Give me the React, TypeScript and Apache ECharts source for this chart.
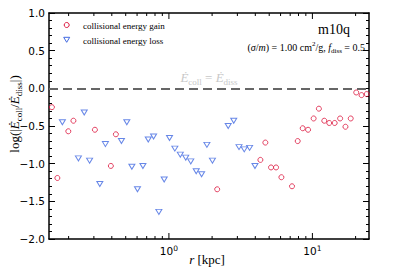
import React, { useEffect, useRef } from 'react';
import * as echarts from 'echarts';

// radius bins [kpc] and log(|Ecoll/Ediss|) values
const gainR = [0.153, 0.167, 0.199, 0.216, 0.305, 0.394, 0.427, 2.17, 4.34, 4.70, 5.15, 5.58, 6.08, 7.21, 7.90, 8.56, 9.33, 10.2, 11.1, 12.1, 13.1, 14.3, 15.6, 17.0, 18.5, 20.2, 22.0, 23.9];
const gainY = [-0.25, -1.19, -0.57, -0.43, -0.55, -1.03, -0.61, -1.34, -0.95, -0.72, -1.05, -1.05, -1.18, -1.30, -0.70, -0.53, -0.55, -0.40, -0.27, -0.43, -0.46, -0.46, -0.40, -0.51, -0.40, -0.055, -0.09, -0.076];
const lossR = [0.181, 0.234, 0.257, 0.280, 0.330, 0.361, 0.467, 0.509, 0.552, 0.604, 0.659, 0.718, 0.782, 0.851, 0.927, 1.01, 1.10, 1.20, 1.31, 1.42, 1.55, 1.69, 1.84, 2.01, 2.59, 2.83, 3.08, 3.35, 3.65, 3.98];
const lossY = [-0.45, -0.93, -0.32, -0.96, -1.27, -0.74, -0.70, -0.45, -1.04, -1.34, -1.03, -0.68, -0.64, -1.64, -1.21, -0.66, -0.80, -0.88, -0.92, -0.97, -1.10, -1.14, -0.75, -0.96, -0.50, -0.43, -0.78, -0.81, -0.79, -1.03];

const seriesNames = ['collisional energy gain', 'collisional energy loss'];
const xMajorTicks = [1, 10];
const xMajorExp = ['0', '1'];
const xMinorTicks = [0.2, 0.3, 0.4, 0.5, 0.6, 0.7, 0.8, 0.9, 2, 3, 4, 5, 6, 7, 8, 9, 20];
const xMin = 0.146;
const xMax = 24.8;
const yMin = -2;
const yMax = 1;
const yInterval = 0.5;
const refLineY = 0;

const RED = '#dc143c';
const BLUE = '#4169e1';
const SERIF = '"Liberation Serif", "DejaVu Serif", serif';
const SANS = '"DejaVu Sans", sans-serif';
const MAJOR_LEN = 6;
const MINOR_LEN = 3;

function mathRich(size: number, color = '#000') {
  const lh = Math.round(size * 1.35);
  const sl = Math.round(size * 0.75);
  const ss = Math.round(size * 0.7);
  return {
    n: { fontFamily: SERIF, fontSize: size, color, fill: color, lineHeight: lh },
    i: { fontFamily: SERIF, fontSize: size, color, fill: color, fontStyle: 'italic', lineHeight: lh },
    sub: { fontFamily: SERIF, fontSize: ss, color, fill: color, lineHeight: sl, verticalAlign: 'bottom' },
    sup: { fontFamily: SERIF, fontSize: ss, color, fill: color, lineHeight: sl, verticalAlign: 'top' },
  };
}

export default function App() {
  const ref = useRef<HTMLDivElement>(null);
  useEffect(() => {
    if (!ref.current) return;
    const chart = echarts.init(ref.current, null, { renderer: 'svg' });
    const spine = { show: true, onZero: false, lineStyle: { color: '#000', width: 1.5 } };
    const tickStyle = { color: '#000', width: 1 };
    const yAx = (position: string, labels: boolean) => ({
      type: 'value',
      position,
      min: yMin,
      max: yMax,
      interval: yInterval,
      axisLine: spine,
      axisTick: { show: true, inside: true, length: MAJOR_LEN, lineStyle: tickStyle },
      minorTick: { show: true, splitNumber: 5, length: MINOR_LEN, lineStyle: tickStyle },
      splitLine: { show: false },
      axisLabel: labels
        ? {
            margin: 4,
            fontFamily: SANS,
            fontSize: 10.5,
            color: '#000',
            formatter: (v: number) => (v < 0 ? '\u2212' : '') + Math.abs(v).toFixed(1),
          }
        : { show: false },
    });
    const xAx = (position: string, labels: boolean) => ({
      type: 'log',
      logBase: 10,
      position,
      min: xMin,
      max: xMax,
      axisLine: spine,
      axisTick: { show: false },
      splitLine: { show: false },
      axisLabel: labels
        ? {
            show: true,
            margin: 5,
            showMinLabel: false,
            showMaxLabel: false,
            formatter: (v: number) => {
              const k = xMajorTicks.findIndex((t) => Math.abs(t - v) < 1e-6 * t);
              return k >= 0 ? `{b|10}{e|${xMajorExp[k]}}` : '';
            },
            rich: {
              b: { fontFamily: SANS, fontSize: 10.5, color: '#000', lineHeight: 14 },
              e: { fontFamily: SANS, fontSize: 7.5, color: '#000', lineHeight: 8, verticalAlign: 'top' },
            },
          }
        : { show: false },
    });
    const option: any = {
      animation: false,
      backgroundColor: '#fff',
      grid: { left: 49, right: 38, top: 13, bottom: 32, containLabel: false, outerBoundsMode: 'none' },
      xAxis: [xAx('bottom', true), xAx('top', false)],
      yAxis: [yAx('left', true), yAx('right', false)],
      series: [
        {
          name: seriesNames[0],
          type: 'scatter',
          xAxisIndex: 0,
          yAxisIndex: 0,
          symbol: 'circle',
          symbolSize: 5,
          itemStyle: { color: 'rgba(255,255,255,0)', borderColor: RED, borderWidth: 1 },
          data: gainR.map((r, i) => [r, gainY[i]]),
          z: 3,
          markLine: {
            silent: true,
            symbol: 'none',
            label: { show: false },
            lineStyle: { type: [9, 5], color: '#666', width: 1.8 },
            data: [{ yAxis: refLineY }],
            z: 1,
          },
        },
        {
          name: seriesNames[1],
          type: 'scatter',
          xAxisIndex: 0,
          yAxisIndex: 0,
          symbol: 'triangle',
          symbolRotate: 180,
          symbolSize: [6, 5],
          itemStyle: { color: 'rgba(255,255,255,0)', borderColor: BLUE, borderWidth: 1 },
          data: lossR.map((r, i) => [r, lossY[i]]),
          z: 3,
        },
      ],
      graphic: [
        {
          type: 'circle',
          shape: { cx: 66.7, cy: 25, r: 2.5 },
          style: { fill: 'none', stroke: RED, lineWidth: 1 },
        },
        {
          type: 'polygon',
          shape: { points: [[63.7, 37.3], [69.7, 37.3], [66.7, 42.3]] },
          style: { fill: 'none', stroke: BLUE, lineWidth: 1 },
        },
        {
          type: 'text',
          x: 83,
          y: 25.5,
          style: { text: seriesNames[0], fontFamily: SERIF, fontSize: 9, fill: '#000', verticalAlign: 'middle' },
        },
        {
          type: 'text',
          x: 83,
          y: 40.5,
          style: { text: seriesNames[1], fontFamily: SERIF, fontSize: 9, fill: '#000', verticalAlign: 'middle' },
        },
        // axis titles
        {
          type: 'text',
          x: 14,
          y: 114,
          rotation: Math.PI / 2,
          style: {
            text: '{n|log(|}{i|\u0116}{sub|coll}{n|/}{i|\u0116}{sub|diss}{n||)}',
            rich: mathRich(13),
            align: 'center',
            verticalAlign: 'middle',
          },
        },
        {
          type: 'text',
          x: 207,
          y: 259,
          style: {
            text: '{i|r}{n| [kpc]}',
            rich: mathRich(13),
            align: 'center',
            verticalAlign: 'middle',
          },
        },
        {
          type: 'text',
          x: 350,
          y: 29,
          style: { text: 'm10q', fontFamily: SERIF, fontSize: 14, fill: '#000', align: 'right', verticalAlign: 'middle' },
        },
        {
          type: 'text',
          x: 365,
          y: 47,
          style: {
            text: '{n|(}{i|\u03c3}{n|/}{i|m}{n|) = 1.00 cm}{sup|2}{n|/g, }{i|f}{sub|diss}{n| = 0.5}',
            rich: mathRich(10),
            align: 'right',
            verticalAlign: 'middle',
          },
        },
        {
          type: 'text',
          x: 209,
          y: 77,
          style: {
            text: '{i|\u0116}{sub|coll}{n| = }{i|\u0116}{sub|diss}',
            rich: mathRich(13, '#c8c8c8'),
            align: 'center',
            verticalAlign: 'middle',
          },
        },
      ],
    };
    chart.setOption(option);

    // x-axis major/minor ticks (inside, top and bottom), placed through the log axis scale
    const yBottom = chart.convertToPixel({ yAxisIndex: 0 }, yMin) as number;
    const yTop = chart.convertToPixel({ yAxisIndex: 0 }, yMax) as number;
    const tickLines: any[] = [];
    const addTicks = (vals: number[], len: number) => {
      vals.forEach((v) => {
        const px = chart.convertToPixel({ xAxisIndex: 0 }, v) as number;
        tickLines.push({
          type: 'line',
          silent: true,
          shape: { x1: px, y1: yBottom, x2: px, y2: yBottom - len },
          style: { stroke: '#000', lineWidth: 1 },
        });
        tickLines.push({
          type: 'line',
          silent: true,
          shape: { x1: px, y1: yTop, x2: px, y2: yTop + len },
          style: { stroke: '#000', lineWidth: 1 },
        });
      });
    };
    addTicks(xMajorTicks, MAJOR_LEN);
    addTicks(xMinorTicks, MINOR_LEN);
    chart.setOption({ graphic: [...option.graphic, ...tickLines] }, { replaceMerge: ['graphic'] });

    return () => chart.dispose();
  }, []);
  return <div ref={ref} style={{ position: 'fixed', left: 0, top: 0, width: 407, height: 271 }} />;
}
